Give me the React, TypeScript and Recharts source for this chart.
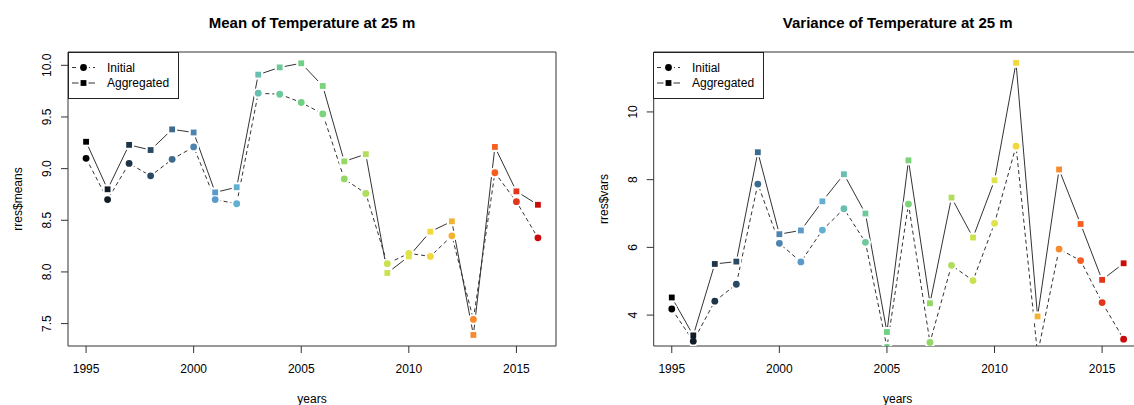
import { LineChart, Line, XAxis, YAxis, ReferenceArea, Legend } from "recharts";

const years = [1995, 1996, 1997, 1998, 1999, 2000, 2001, 2002, 2003, 2004, 2005, 2006, 2007, 2008, 2009, 2010, 2011, 2012, 2013, 2014, 2015, 2016];

const meansInitial = [9.1, 8.7, 9.05, 8.93, 9.09, 9.21, 8.7, 8.66, 9.73, 9.72, 9.64, 9.53, 8.9, 8.76, 8.08, 8.18, 8.15, 8.35, 7.54, 8.96, 8.68, 8.33];
const meansAggregated = [9.26, 8.8, 9.23, 9.18, 9.38, 9.35, 8.77, 8.82, 9.91, 9.98, 10.02, 9.8, 9.07, 9.14, 7.99, 8.15, 8.39, 8.49, 7.39, 9.21, 8.78, 8.65];

const varsInitial = [4.18, 3.23, 4.41, 4.91, 7.87, 6.12, 5.57, 6.51, 7.14, 6.15, 3.05, 7.28, 3.19, 5.47, 5.02, 6.71, 8.99, 2.85, 5.95, 5.61, 4.37, 3.29];
const varsAggregated = [4.52, 3.4, 5.51, 5.58, 8.81, 6.39, 6.5, 7.36, 8.16, 7.0, 3.5, 8.57, 4.35, 7.47, 6.29, 7.98, 11.45, 3.96, 8.3, 6.69, 5.04, 5.53];

// one colour per year, dark blue -> green -> yellow -> red
const yearColors = [
  "#000000", "#121c26", "#1f3447", "#2a4a63", "#3d6b8e", "#4f84af", "#5a9acb", "#62afcf",
  "#68bfb0", "#6dc99a", "#6fd184", "#7dd37c", "#93d865", "#b0dd5b", "#c9e24f", "#dfe24a",
  "#f2d83c", "#f3b232", "#f68a2c", "#f65e1f", "#e3351a", "#cc0a0a",
];

const yearTicks = [1995, 2000, 2005, 2010, 2015];
const meansTicks = [7.5, 8, 8.5, 9, 9.5, 10];
const varsTicks = [4, 6, 8, 10];

const xDomain: [number, number] = [1994.16, 2016.84];
const meansDomain: [number, number] = [7.283, 10.129];
const varsDomain: [number, number] = [3.087, 11.77];

const FONT = "'Liberation Sans', Arial, Helvetica, sans-serif";
const PLOT_W = 488;
const PLOT_TOP = 52;
const X_AXIS_H = 59;
const HEIGHT = 405;

const circleHalo = (props: any) => {
  const { cx, cy, index } = props;
  if (cx == null || cy == null) return <g key={`h${index}`} />;
  return <circle key={`h${index}`} cx={cx} cy={cy} r={5.5} fill="#fff" />;
};
const squareHalo = (props: any) => {
  const { cx, cy, index } = props;
  if (cx == null || cy == null) return <g key={`h${index}`} />;
  return <rect key={`h${index}`} x={cx - 5} y={cy - 5} width={10} height={10} fill="#fff" />;
};
const circleDot = (props: any) => {
  const { cx, cy, index } = props;
  if (cx == null || cy == null) return <g key={`d${index}`} />;
  return <circle key={`d${index}`} cx={cx} cy={cy} r={3.4} fill={yearColors[index]} />;
};
const squareDot = (props: any) => {
  const { cx, cy, index } = props;
  if (cx == null || cy == null) return <g key={`d${index}`} />;
  return <rect key={`d${index}`} x={cx - 2.9} y={cy - 2.9} width={5.8} height={5.8} fill={yearColors[index]} />;
};

function LegendBox() {
  return (
    <svg width={112} height={48} style={{ display: "block", fontFamily: FONT }}>
      <rect x={0.5} y={0.5} width={110} height={46} fill="#fff" stroke="#222" />
      <line x1={4} y1={15.5} x2={27} y2={15.5} stroke="#333" strokeDasharray="4 3" />
      <circle cx={15.5} cy={15.5} r={5.5} fill="#fff" />
      <circle cx={15.5} cy={15.5} r={3.4} fill="#000" />
      <text x={39} y={15.5} dominantBaseline="central" fontSize={12} fill="#000">Initial</text>
      <line x1={4} y1={31} x2={27} y2={31} stroke="#333" />
      <rect x={10.5} y={26} width={10} height={10} fill="#fff" />
      <rect x={12.6} y={28.1} width={5.8} height={5.8} fill="#000" />
      <text x={39} y={31} dominantBaseline="central" fontSize={12} fill="#000">Aggregated</text>
    </svg>
  );
}

interface PanelProps {
  title: string;
  yLabel: string;
  initial: number[];
  aggregated: number[];
  yDomain: [number, number];
  yTicks: number[];
  digits: number;
  plotLeft: number;
  width: number;
}

function Panel({ title, yLabel, initial, aggregated, yDomain, yTicks, digits, plotLeft, width }: PanelProps) {
  const rows = years.map((year, i) => ({ year, init: initial[i], agg: aggregated[i] }));
  const cx = plotLeft + PLOT_W / 2;
  const yTick = (props: any) => {
    const { x, y, payload } = props;
    const tx = x - 14;
    return (
      <text x={tx} y={y} transform={`rotate(-90 ${tx} ${y})`} textAnchor="middle" dominantBaseline="central"
        fontSize={12} fill="#000" fontFamily={FONT}>
        {Number(payload.value).toFixed(digits)}
      </text>
    );
  };

  return (
    <LineChart
      width={width}
      height={HEIGHT}
      data={rows}
      margin={{ top: PLOT_TOP, right: width - plotLeft - PLOT_W, bottom: 0, left: 0 }}
      style={{ fontFamily: FONT }}
    >
      <XAxis
        dataKey="year"
        type="number"
        domain={xDomain}
        ticks={yearTicks}
        allowDataOverflow
        height={X_AXIS_H}
        axisLine={false}
        tickLine={{ stroke: "#333" }}
        tickSize={7}
        tickMargin={11}
        tick={{ fontSize: 12, fill: "#000", fontFamily: FONT }}
      />
      <YAxis
        type="number"
        domain={yDomain}
        ticks={yTicks}
        allowDataOverflow
        width={plotLeft}
        axisLine={false}
        tickLine={{ stroke: "#333" }}
        tickSize={7}
        tickMargin={0}
        tick={yTick}
      />
      <Line dataKey="init" stroke="#333" strokeWidth={1} strokeDasharray="4 3" dot={false} isAnimationActive={false} legendType="none" />
      <Line dataKey="agg" stroke="#333" strokeWidth={1} dot={false} isAnimationActive={false} legendType="none" />
      <Line dataKey="init" stroke="none" dot={circleHalo} activeDot={false} isAnimationActive={false} legendType="none" />
      <Line dataKey="agg" stroke="none" dot={squareHalo} activeDot={false} isAnimationActive={false} legendType="none" />
      <Line dataKey="init" stroke="none" dot={circleDot} activeDot={false} isAnimationActive={false} legendType="none" />
      <Line dataKey="agg" stroke="none" dot={squareDot} activeDot={false} isAnimationActive={false} legendType="none" />
      <ReferenceArea x1={xDomain[0]} x2={xDomain[1]} y1={yDomain[0]} y2={yDomain[1]} fill="none" stroke="#333" strokeWidth={1} fillOpacity={0} />
      <Legend
        layout="vertical"
        align="center"
        verticalAlign="middle"
        content={() => <LegendBox />}
        wrapperStyle={{ left: plotLeft - 0.5, top: PLOT_TOP - 0.5, width: "auto", height: "auto" }}
      />
      <text x={cx} y={22} textAnchor="middle" dominantBaseline="central" fontWeight="bold" fontSize={15} fill="#000" fontFamily={FONT}>
        {title}
      </text>
      <text x={cx} y={399} textAnchor="middle" dominantBaseline="central" fontSize={12} fill="#000" fontFamily={FONT}>
        years
      </text>
      <text x={plotLeft - 50} y={PLOT_TOP + 147} transform={`rotate(-90 ${plotLeft - 50} ${PLOT_TOP + 147})`}
        textAnchor="middle" dominantBaseline="central" fontSize={12} fill="#000" fontFamily={FONT}>
        {yLabel}
      </text>
    </LineChart>
  );
}

export default function App() {
  return (
    <div style={{ position: "absolute", left: 0, top: 0, width: 1134, height: HEIGHT, overflow: "hidden", background: "#fff" }}>
      <div style={{ position: "absolute", left: 0, top: 0 }}>
        <Panel
          title="Mean of Temperature at 25 m"
          yLabel="rres$means"
          initial={meansInitial}
          aggregated={meansAggregated}
          yDomain={meansDomain}
          yTicks={meansTicks}
          digits={1}
          plotLeft={68}
          width={567}
        />
      </div>
      <div style={{ position: "absolute", left: 567, top: 0 }}>
        <Panel
          title="Variance of Temperature at 25 m"
          yLabel="rres$vars"
          initial={varsInitial}
          aggregated={varsAggregated}
          yDomain={varsDomain}
          yTicks={varsTicks}
          digits={0}
          plotLeft={86.7}
          width={581}
        />
      </div>
    </div>
  );
}
